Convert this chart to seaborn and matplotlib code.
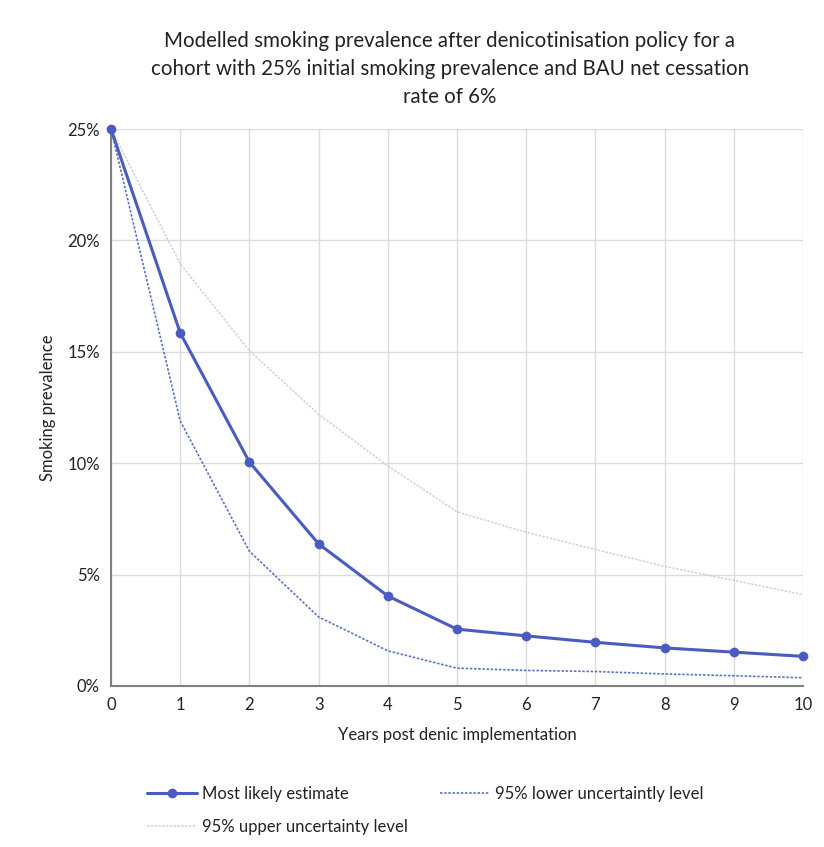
import matplotlib
matplotlib.use("Agg")
import matplotlib.pyplot as plt
import seaborn as sns
import pandas as pd
import numpy as np
from matplotlib.ticker import FuncFormatter

years = [0, 1, 2, 3, 4, 5, 6, 7, 8, 9, 10]
most_likely = [25.0, 15.85, 10.05, 6.38, 4.04, 2.55, 2.25, 1.96, 1.71, 1.52, 1.33]
lower_95 = [25.0, 11.9, 6.05, 3.1, 1.58, 0.80, 0.70, 0.65, 0.54, 0.46, 0.37]
upper_95 = [25.0, 18.95, 15.05, 12.2, 9.88, 7.82, 6.9, 6.13, 5.37, 4.74, 4.10]
y_ticks = [0, 5, 10, 15, 20, 25]
title = ("Modelled smoking prevalence after denicotinisation policy for a\n"
         "cohort with 25% initial smoking prevalence and BAU net cessation\n"
         "rate of 6%")

sns.set_style("white")
plt.rcParams['font.family'] = ['Lato', 'DejaVu Sans']

df = pd.DataFrame({"year": years, "most": most_likely, "low": lower_95, "up": upper_95})

fig = plt.figure(figsize=(8.24, 8.47), dpi=100)
ax = fig.add_axes([111/824, 1-686/847, (803-111)/824, (686-129)/847])

main_c = "#4a5cc0"
low_c = "#5a74c4"
up_c = "#c9d0e6"

sns.lineplot(data=df, x="year", y="up", ax=ax, color=up_c, linewidth=1.1,
             linestyle=(0, (1.5, 1)), label="95% upper uncertainty level", zorder=2)
sns.lineplot(data=df, x="year", y="low", ax=ax, color=low_c, linewidth=1.2,
             linestyle=(0, (1.5, 1)), label="95% lower uncertaintly level", zorder=3)
sns.lineplot(data=df, x="year", y="most", ax=ax, color=main_c, linewidth=2.2,
             marker="o", markersize=7, markeredgewidth=0, label="Most likely estimate", zorder=4)

ax.set_xlim(0, 10)
ax.set_ylim(0, 25)
ax.set_xticks(years)
ax.set_yticks(y_ticks)
ax.yaxis.set_major_formatter(FuncFormatter(lambda v, p: f"{int(v)}%"))
ax.grid(True, color="#dcdcdc", linewidth=1)
ax.set_axisbelow(True)
for s in ["top", "right"]:
    ax.spines[s].set_visible(False)
ax.spines["left"].set_color("#7f7f7f")
ax.spines["bottom"].set_color("#7f7f7f")
ax.spines["left"].set_linewidth(1.5)
ax.spines["bottom"].set_linewidth(1.5)
ax.tick_params(axis="both", length=0, labelsize=12, colors="#222222", pad=8)
ax.set_xlabel("Years post denic implementation", fontsize=12, color="#222222", labelpad=10)
ax.set_ylabel("Smoking prevalence", fontsize=12, color="#222222", labelpad=8)
for l in ax.lines:
    l.set_clip_on(False)

fig.text(450/824, 1-69/847, title, ha="center", va="center", fontsize=14.8,
         color="#222222", linespacing=1.5)

ax.get_legend().remove()
h, lab = ax.get_legend_handles_labels()
d = dict(zip(lab, h))
order = ["Most likely estimate", "95% upper uncertainty level", "95% lower uncertaintly level"]
fig.legend([d[o] for o in order], order, ncol=2, loc="upper left",
           bbox_to_anchor=(132/824, 1-771/847), frameon=False, fontsize=12,
           handlelength=3.0, columnspacing=1.9, labelcolor="#222222", handletextpad=0.3,
           labelspacing=1.0)

fig.savefig("out.png", dpi=100, facecolor="white")
